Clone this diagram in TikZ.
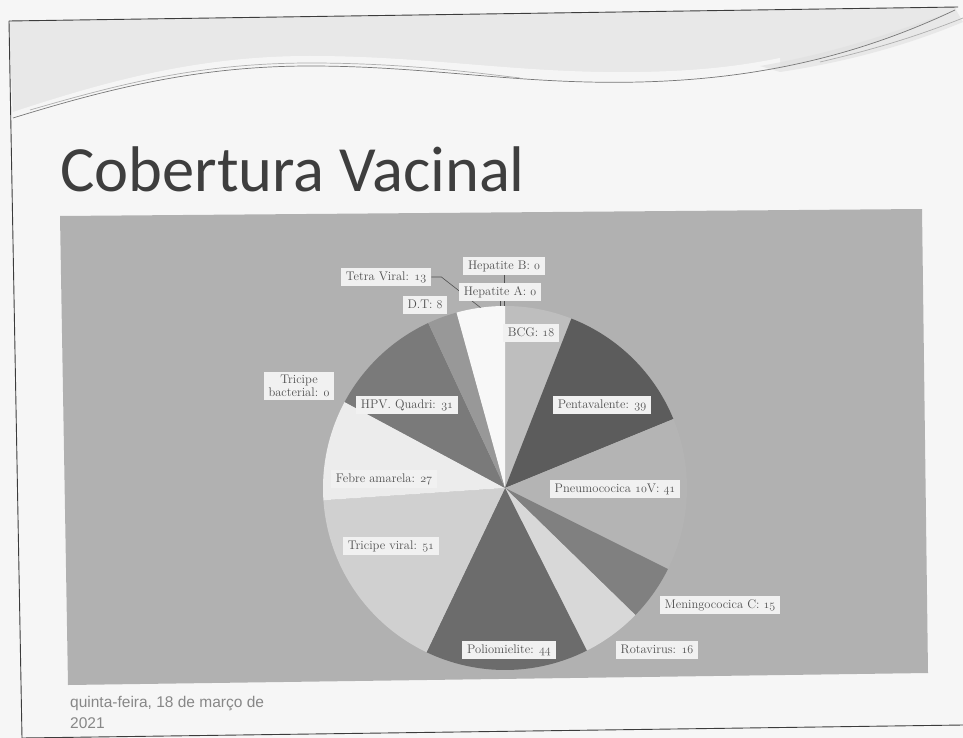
\documentclass[tikz,border=0pt]{standalone}
\usepackage{fontspec}
\newfontfamily\titlefont{Carlito}
\newfontfamily\datefont{Liberation Sans}
\newcommand\osf[1]{{\fontencoding{OML}\fontfamily{cmm}\fontseries{m}\fontshape{it}\selectfont#1}}
\pgfdeclarelayer{back}
\pgfdeclarelayer{lead}
\pgfsetlayers{back,lead,main}
\definecolor{paper}{RGB}{246,246,246}
\definecolor{chartbg}{RGB}{177,177,177}
\definecolor{cBCG}{RGB}{190,190,190}
\definecolor{cPenta}{RGB}{92,92,92}
\definecolor{cPneumo}{RGB}{180,180,180}
\definecolor{cMenin}{RGB}{128,128,128}
\definecolor{cRota}{RGB}{216,216,216}
\definecolor{cPolio}{RGB}{108,108,108}
\definecolor{cTricv}{RGB}{208,208,208}
\definecolor{cFebre}{RGB}{236,236,236}
\definecolor{cHPV}{RGB}{122,122,122}
\definecolor{cDT}{RGB}{152,152,152}
\definecolor{cTetra}{RGB}{248,248,248}
\definecolor{lblfill}{RGB}{241,241,241}
\definecolor{lbltext}{RGB}{80,80,80}
\definecolor{ldr}{RGB}{80,80,80}
\definecolor{titlec}{RGB}{62,62,62}
\definecolor{datec}{RGB}{135,135,135}
\definecolor{framec}{RGB}{60,60,60}
\definecolor{hdr}{RGB}{232,232,232}
\definecolor{swoosh}{RGB}{120,120,120}
\tikzset{
  lblbase/.style={fill=lblfill, text=lbltext, inner xsep=5pt, inner ysep=3pt,
    font=\fontsize{12.5}{13.5}\selectfont},
  lbl/.style={lblbase, text height=8.6pt, text depth=2.6pt},
  ldrline/.style={draw=ldr, line width=0.6pt},
  framel/.style={draw=framec, line width=0.9pt},
  swooshl/.style={draw=swoosh, line width=0.7pt}
}
\begin{document}
\begin{tikzpicture}[x=1pt, y=-1pt]
\useasboundingbox (0,0) rectangle (963,738);
\begin{pgfonlayer}{back}
  \fill[paper] (0,0) rectangle (963,738);
  % header band
  \fill[hdr] (9,21) -- (956,7) -- (956,10) .. controls (860,55) and (760,79) .. (640,82)
     .. controls (520,85) and (430,66) .. (310,66) .. controls (200,66) and (110,88) .. (13,118) -- cycle;
  \fill[white, opacity=0.6] (13,112) .. controls (110,80) and (200,56) .. (310,56)
     .. controls (430,56) and (520,74) .. (640,72) .. controls (700,71) and (740,66) .. (780,58)
     -- (780,66) .. controls (740,76) and (700,80) .. (640,82) .. controls (520,85) and (430,66) .. (310,66)
     .. controls (200,66) and (110,88) .. (13,118) -- cycle;
  \fill[gray!25, opacity=0.6] (760,66) .. controls (840,52) and (900,30) .. (956,10)
     -- (963,22) .. controls (920,40) and (860,60) .. (780,72) -- cycle;
  \draw[swooshl] (13,118) .. controls (110,88) and (200,66) .. (310,66)
     .. controls (430,66) and (520,85) .. (640,82) .. controls (760,79) and (860,55) .. (955,10);
  \draw[swooshl, draw=swoosh!60] (30,110) .. controls (120,84) and (200,63) .. (310,63)
     .. controls (400,63) and (470,72) .. (520,78);
  \draw[swooshl, draw=swoosh!60] (820,62) .. controls (880,48) and (920,35) .. (963,18);
  % frame
  \draw[framel] (9,21) -- (958,7);
  \draw[framel] (9,21) -- (22,738);
  \draw[framel] (22,738) -- (963,725);
  % chart area
  \fill[chartbg] (60,216) -- (922,209) -- (928,673) -- (68,685) -- cycle;
  % pie
  \begin{scope}[shift={(505,488)}, x=1pt, y=1pt]
    \def\R{182}
    \foreach \a/\b/\c in {90/68.614/cBCG, 68.614/22.277/cPenta, 22.277/-26.436/cPneumo,
        -26.436/-44.257/cMenin, -44.257/-63.267/cRota, -63.267/-115.545/cPolio,
        -115.545/-176.139/cTricv, -176.139/-208.218/cFebre, -208.218/-245.050/cHPV,
        -245.050/-254.555/cDT, -254.555/-270/cTetra}
      \fill[\c] (0,0) -- (\a:\R) arc[start angle=\a, end angle=\b, radius=\R] -- cycle;
    \coordinate (ptop) at (90:\R);
    \coordinate (ptetra) at (97.72:\R);
  \end{scope}
\end{pgfonlayer}

% title and date
\node[anchor=base west, inner sep=0pt, text=titlec,
      font=\titlefont\fontsize{64.5}{70}\selectfont] (title) at (60,192) {Cobertura Vacinal};
\node[anchor=base west, inner sep=0pt, text=datec, align=left,
      font=\datefont\fontsize{15.5}{21}\selectfont] (date) at (70,728) {quinta-feira, 18 de março de\\2021};

% labels
\node[lbl] (hepB)   at (504,266) {Hepatite B: \osf{0}};
\node[lbl] (hepA)   at (500,292) {Hepatite A: \osf{0}};
\node[lbl] (tetra)  at (386,277) {Tetra Viral: \osf{13}};
\node[lbl] (dt)     at (425,305) {D.T: \osf{8}};
\node[lbl] (bcg)    at (531,333) {BCG: \osf{18}};
\node[lblbase, align=center] (tricb) at (299,386) {Tricipe\\bacterial: \osf{0}};
\node[lbl] (hpv)    at (407,405) {HPV. Quadri: \osf{31}};
\node[lbl] (penta)  at (602,405) {Pentavalente: \osf{39}};
\node[lbl] (pneumo) at (615,489) {Pneumococica \osf{10}V: \osf{41}};
\node[lbl] (febre)  at (384,479) {Febre amarela: \osf{27}};
\node[lbl] (tricv)  at (391,546) {Tricipe viral: \osf{51}};
\node[lbl] (polio)  at (509,650) {Poliomielite: \osf{44}};
\node[lbl] (rota)   at (657,650) {Rotavirus: \osf{16}};
\node[lbl] (menin)  at (720,605) {Meningococica C: \osf{15}};

% leader lines
\begin{pgfonlayer}{lead}
  \draw[ldrline] (hepB.south) -- (hepB.south |- ptop);
  \draw[ldrline] (hepA.south) -- (hepA.south |- ptop);
  \draw[ldrline] (tetra.east) -- ++(10,0) -- (ptetra);
\end{pgfonlayer}
\end{tikzpicture}
\end{document}
